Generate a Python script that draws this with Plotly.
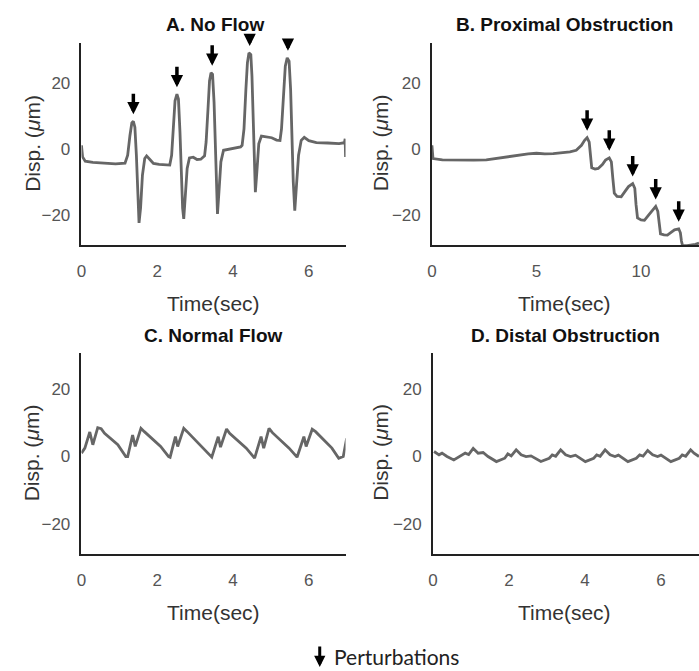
import plotly.graph_objects as go

# ---------------- data ----------------
# Panel A: No Flow
a_t = [0.00, 0.03, 0.10, 0.30, 0.60, 0.90, 1.15, 1.22, 1.28, 1.33, 1.37, 1.41, 1.45, 1.48, 1.52, 1.56, 1.61, 1.67, 1.72, 1.80, 1.90, 2.05, 2.20, 2.33,
       2.38, 2.43, 2.47, 2.52, 2.56, 2.60, 2.63, 2.67, 2.70, 2.74, 2.79, 2.85, 2.95, 3.05, 3.15, 3.25,
       3.29, 3.34, 3.38, 3.42, 3.46, 3.50, 3.53, 3.56, 3.59, 3.63, 3.68, 3.75, 3.90, 4.05, 4.20, 4.24,
       4.29, 4.34, 4.38, 4.42, 4.47, 4.50, 4.53, 4.56, 4.59, 4.63, 4.68, 4.75, 4.90, 5.02, 5.15, 5.24,
       5.28, 5.33, 5.38, 5.43, 5.48, 5.52, 5.55, 5.59, 5.63, 5.67, 5.73, 5.80, 5.88, 6.00, 6.20, 6.50, 6.80, 6.94, 6.96, 6.97, 6.98]
a_y = [1.0, -2.5, -3.8, -4.2, -4.4, -4.6, -4.4, -2.0, 4.0, 7.8, 8.3, 6.5, -2.0, -13.0, -22.5, -18.0, -8.0, -3.0, -2.2, -3.2, -4.5, -4.8, -4.9, -5.0,
       -2.0, 6.0, 14.5, 16.5, 15.0, 5.0, -8.0, -18.0, -21.3, -15.0, -6.0, -2.8, -2.6, -3.3, -3.2, -2.2,
       2.0, 12.0, 20.5, 23.0, 22.5, 14.0, 0.0, -12.0, -19.8, -13.0, -4.0, -0.5, -0.2, 0.2, 0.5, 1.0,
       6.0, 18.0, 26.0, 29.0, 28.5, 22.0, 8.0, -5.0, -13.2, -7.0, 1.5, 3.8, 3.6, 3.3, 2.6, 2.5,
       6.0, 17.0, 25.0, 27.5, 26.5, 18.0, 4.0, -10.0, -18.8, -12.0, -2.0, 2.5, 3.4, 2.4, 1.8, 1.7, 1.5, 1.8, 3.0, -2.5, 1.5]
a_pert_t = [1.37, 2.52, 3.45, 4.44, 5.45]
a_pert_y = [8.3, 16.5, 23.0, 29.0, 27.5]

# Panel B: Proximal Obstruction
b_t = [0.00, 0.05, 0.50, 1.00, 1.50, 2.00, 2.60, 3.00, 3.40, 3.80, 4.20, 4.60, 5.00, 5.40, 5.80, 6.20, 6.60, 6.90,
       7.15, 7.30, 7.42, 7.52, 7.58, 7.64, 7.80, 7.95, 8.15, 8.30, 8.48, 8.58, 8.65, 8.72, 8.85, 9.05, 9.25, 9.40,
       9.60, 9.70, 9.76, 9.83, 10.00, 10.16, 10.35, 10.55, 10.70, 10.80, 10.86, 10.93, 11.10, 11.26, 11.45, 11.60,
       11.80, 11.88, 11.93, 11.98, 12.20, 12.40, 12.60, 12.77]
b_y = [1.0, -3.0, -3.4, -3.5, -3.6, -3.5, -3.4, -3.0, -2.6, -2.2, -1.8, -1.6, -1.4, -1.6, -1.5, -1.3, -1.0, -0.5,
       1.0, 2.5, 3.3, 2.0, -2.0, -5.8, -6.2, -6.0, -4.8, -3.5, -2.8, -4.0, -9.0, -13.5, -14.5, -14.6, -12.8, -11.5,
       -10.6, -12.0, -17.0, -21.0, -21.6, -21.7, -20.2, -18.8, -17.5, -19.0, -23.0, -25.8, -26.1, -26.2, -25.3, -24.6,
       -24.3, -25.5, -28.0, -29.3, -29.4, -29.3, -29.0, -28.6]
b_pert_t = [7.42, 8.48, 9.60, 10.70, 11.80]
b_pert_y = [3.3, -2.8, -10.6, -17.5, -24.3]

# Panel C: Normal Flow
c_t = [0.00, 0.09, 0.22, 0.30, 0.43, 0.52, 0.61, 0.96, 1.17, 1.22, 1.35, 1.42, 1.57, 1.66, 2.09, 2.30, 2.34, 2.48, 2.54,
       2.70, 2.79, 3.22, 3.44, 3.61, 3.67, 3.83, 3.91, 4.35, 4.57, 4.74, 4.81, 4.95, 5.04, 5.48, 5.69, 5.87, 5.93,
       6.09, 6.18, 6.61, 6.79, 6.91, 7.00]
c_y = [1.0, 2.5, 7.3, 3.5, 8.6, 8.3, 6.9, 3.5, 0.0, 0.0, 6.4, 3.0, 8.4, 7.4, 3.0, 0.0, -0.2, 5.9, 3.0,
       8.4, 7.4, 2.5, -0.2, 5.9, 2.8, 8.2, 6.9, 2.5, -0.5, 5.9, 2.5, 8.4, 7.1, 2.5, -0.2, 5.9, 3.0,
       8.1, 7.4, 2.5, -0.5, 0.0, 5.4]

# Panel D: Distal Obstruction
d_t = [0.03, 0.16, 0.24, 0.37, 0.55, 0.72, 0.85, 0.94, 1.06, 1.19, 1.32, 1.45, 1.67, 1.89, 1.97, 2.06, 2.19, 2.32, 2.45, 2.58,
       2.84, 3.06, 3.14, 3.23, 3.36, 3.49, 3.62, 3.75, 4.01, 4.23, 4.31, 4.40, 4.53, 4.66, 4.79, 4.88, 5.13, 5.35, 5.44,
       5.53, 5.65, 5.78, 5.91, 6.00, 6.26, 6.48, 6.56, 6.65, 6.78, 6.87, 7.00]
d_y = [1.5, 0.5, 1.0, 0.0, -1.0, 0.0, 1.0, 0.6, 2.4, 1.0, 1.2, 0.0, -1.5, -0.5, 0.8, 0.2, 2.0, 0.5, 0.0, 0.2,
       -1.5, -0.5, 0.5, 0.1, 2.0, 0.5, 0.0, 0.4, -1.5, -0.5, 0.5, 0.1, 2.0, 0.5, 0.0, 0.4, -1.5, -0.5, 0.5,
       0.1, 1.8, 0.5, 0.0, 0.4, -1.5, -0.5, 0.5, 0.1, 2.0, 1.0, 0.0]

titles = ["A. No Flow", "B. Proximal Obstruction", "C. Normal Flow", "D. Distal Obstruction"]
x_label = "Time(sec)"
y_label = "Disp. (<i>μ</i>m)"
legend_label = "Perturbations"

# ---------------- layout geometry ----------------
W, H = 699, 671
def px(x):
    return x / W
def py(y):
    return 1 - y / H

panels = [
    dict(x0=77, x1=343, top=43, bot=245, xr=[0, 6.97], yr=[-29.2, 32.0], dt=2),
    dict(x0=430, x1=699, top=43, bot=245, xr=[0, 12.77], yr=[-29.2, 32.0], dt=5),
    dict(x0=77, x1=343, top=353, bot=554, xr=[0, 6.97], yr=[-29.0, 30.8], dt=2),
    dict(x0=431, x1=699, top=353, bot=554, xr=[0, 7.0], yr=[-29.0, 30.8], dt=2),
]
series = [(a_t, a_y), (b_t, b_y), (c_t, c_y), (d_t, d_y)]

fig = go.Figure()
LINE_COLOR = "#666666"
TICK_FONT = dict(family="Liberation Sans, Arial", size=17, color="#555555")

layout = dict(width=W, height=H, margin=dict(l=0, r=0, t=0, b=0),
              paper_bgcolor="white", plot_bgcolor="white", showlegend=False)
annotations = []

for i, (p, (t, y)) in enumerate(zip(panels, series)):
    n = "" if i == 0 else str(i + 1)
    fig.add_trace(go.Scatter(x=t, y=y, mode="lines", xaxis="x" + n, yaxis="y" + n,
                             line=dict(color=LINE_COLOR, width=2.8), hoverinfo="skip"))
    layout["xaxis" + n] = dict(domain=[px(p["x0"]), px(p["x1"])], range=p["xr"], anchor="y" + n,
                               showline=True, linecolor="#222222", linewidth=1.5, showgrid=False,
                               zeroline=False, ticks="outside", ticklen=10, tickcolor="rgba(0,0,0,0)",
                               tick0=0, dtick=p["dt"], tickfont=TICK_FONT)
    layout["yaxis" + n] = dict(domain=[py(p["bot"]), py(p["top"])], range=p["yr"], anchor="x" + n,
                               showline=True, linecolor="#222222", linewidth=1.5, showgrid=False,
                               zeroline=False, ticks="outside", ticklen=6, tickcolor="rgba(0,0,0,0)",
                               tickvals=[-20, 0, 20], tickfont=TICK_FONT)
    tx = [212, 564, 210, 565][i]
    ty = [25, 25, 335, 335][i]
    annotations.append(dict(text="<b>" + titles[i] + "</b>", xref="paper", yref="paper",
                            x=px(tx), y=py(ty), showarrow=False, xanchor="center", yanchor="middle",
                            font=dict(family="Liberation Sans, Arial", size=19, color="#111111")))
    annotations.append(dict(text=x_label, xref="paper", yref="paper",
                            x=px([210, 564, 210, 564][i]), y=py(p["bot"] + 58), showarrow=False,
                            xanchor="center", yanchor="middle",
                            font=dict(family="Liberation Sans, Arial", size=21, color="#333333")))
    annotations.append(dict(text=y_label, xref="paper", yref="paper",
                            x=px([27, 378, 27, 378][i]), y=py((p["top"] + p["bot"]) / 2 - 1), showarrow=False,
                            textangle=-90, xanchor="center", yanchor="middle",
                            font=dict(family="Liberation Sans, Arial", size=21, color="#333333")))

# perturbation arrows
def add_arrows(ts, ys, n, lengths):
    for t, v, L in zip(ts, ys, lengths):
        annotations.append(dict(x=t, y=v, xref="x" + n, yref="y" + n, text="", showarrow=True,
                                ax=0, ay=-L, arrowhead=2, arrowsize=0.7, arrowwidth=3.5,
                                arrowcolor="#000000", standoff=7))

add_arrows(a_pert_t, a_pert_y, "", [29, 29, 29, 17, 19])
add_arrows(b_pert_t, b_pert_y, "2", [29, 29, 29, 29, 29])

# legend
annotations.append(dict(x=px(317), y=py(667), xref="paper", yref="paper", text="", showarrow=True,
                        ax=0, ay=-22, arrowhead=2, arrowsize=0.75, arrowwidth=3.0, arrowcolor="#000000",
                        standoff=0))
annotations.append(dict(text=legend_label, xref="paper", yref="paper", x=px(329), y=py(656),
                        xanchor="left", yanchor="middle", showarrow=False,
                        font=dict(family="Lato, Open Sans", size=21, color="#222222")))

layout["annotations"] = annotations
fig.update_layout(**layout)
fig.write_html("out.html")
